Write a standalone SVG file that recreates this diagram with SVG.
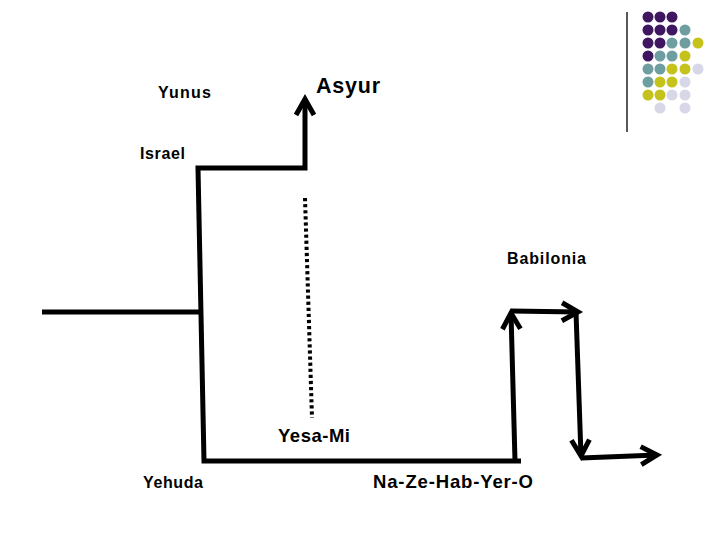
<svg xmlns="http://www.w3.org/2000/svg" width="720" height="540" viewBox="0 0 720 540">
<style>
.ln{fill:none;stroke:#000;stroke-width:5;stroke-linejoin:miter}
.lbl{font-family:"Liberation Sans",Arial,sans-serif;fill:#000;font-weight:bold}
.p{fill:#3e1760}.t{fill:#6f9ea0}.y{fill:#c6c21c}.v{fill:#d7d7e7}
</style>
<defs>
<marker id="ah" markerUnits="userSpaceOnUse" orient="auto" overflow="visible" refX="0" refY="0" markerWidth="1" markerHeight="1">
<path d="M-16,-9 L0,0 L-16,9" fill="none" stroke="#000" stroke-width="5" stroke-linejoin="miter"/>
</marker>
</defs>
<rect width="720" height="540" fill="#fff"/>
<g id="decoration">
<line x1="627" y1="12" x2="627" y2="132" stroke="#222" stroke-width="1.5"/>
<circle class="p" cx="648" cy="17" r="5.5"/><circle class="p" cx="660" cy="17" r="5.5"/><circle class="p" cx="672" cy="17" r="5.5"/>
<circle class="p" cx="648" cy="30" r="5.5"/><circle class="p" cx="660" cy="30" r="5.5"/><circle class="p" cx="672" cy="30" r="5.5"/><circle class="t" cx="685" cy="30" r="5.5"/>
<circle class="p" cx="648" cy="43" r="5.5"/><circle class="p" cx="660" cy="43" r="5.5"/><circle class="t" cx="672" cy="43" r="5.5"/><circle class="t" cx="685" cy="43" r="5.5"/><circle class="y" cx="698" cy="43" r="5.5"/>
<circle class="p" cx="648" cy="56" r="5.5"/><circle class="t" cx="660" cy="56" r="5.5"/><circle class="t" cx="672" cy="56" r="5.5"/><circle class="y" cx="685" cy="56" r="5.5"/>
<circle class="t" cx="648" cy="69" r="5.5"/><circle class="t" cx="660" cy="69" r="5.5"/><circle class="y" cx="672" cy="69" r="5.5"/><circle class="y" cx="685" cy="69" r="5.5"/><circle class="v" cx="698" cy="69" r="5.5"/>
<circle class="t" cx="648" cy="82" r="5.5"/><circle class="y" cx="660" cy="82" r="5.5"/><circle class="y" cx="672" cy="82" r="5.5"/><circle class="v" cx="685" cy="82" r="5.5"/>
<circle class="y" cx="648" cy="95" r="5.5"/><circle class="y" cx="660" cy="95" r="5.5"/><circle class="v" cx="672" cy="95" r="5.5"/><circle class="v" cx="685" cy="95" r="5.5"/>
<circle class="v" cx="660" cy="108" r="5.5"/><circle class="v" cx="685" cy="108" r="5.5"/>
</g>
<g id="connectors">
<line class="ln" x1="42" y1="312" x2="203" y2="312"/>
<path class="ln" d="M521,461 L204,461 L198,168 L305,168 L305,99" marker-end="url(#ah)"/>
<path class="ln" d="M515,461 L511,313" marker-end="url(#ah)"/>
<path class="ln" d="M511,311 L578,312" marker-end="url(#ah)"/>
<path class="ln" d="M576,312 L581,456" marker-end="url(#ah)"/>
<path class="ln" d="M581,458 L657,455" marker-end="url(#ah)"/>
<line x1="305" y1="198" x2="312" y2="418" stroke="#000" stroke-width="4" stroke-dasharray="3.2 2.9"/>
</g>
<g id="yunus"><text class="lbl" x="158" y="98" font-size="16" textLength="53" lengthAdjust="spacing">Yunus</text></g>
<g id="asyur"><text class="lbl" x="316" y="93" font-size="21.5" textLength="64" lengthAdjust="spacing">Asyur</text></g>
<g id="israel"><text class="lbl" x="140" y="159" font-size="16" textLength="45" lengthAdjust="spacing">Israel</text></g>
<g id="babilonia"><text class="lbl" x="507" y="264" font-size="16" textLength="79" lengthAdjust="spacing">Babilonia</text></g>
<g id="yesa-mi"><text class="lbl" x="278" y="442" font-size="18.5" textLength="72" lengthAdjust="spacing">Yesa-Mi</text></g>
<g id="yehuda"><text class="lbl" x="143" y="488" font-size="16" textLength="60" lengthAdjust="spacing">Yehuda</text></g>
<g id="nazehab"><text class="lbl" x="373" y="488" font-size="18.5" textLength="160" lengthAdjust="spacing">Na-Ze-Hab-Yer-O</text></g>
</svg>
